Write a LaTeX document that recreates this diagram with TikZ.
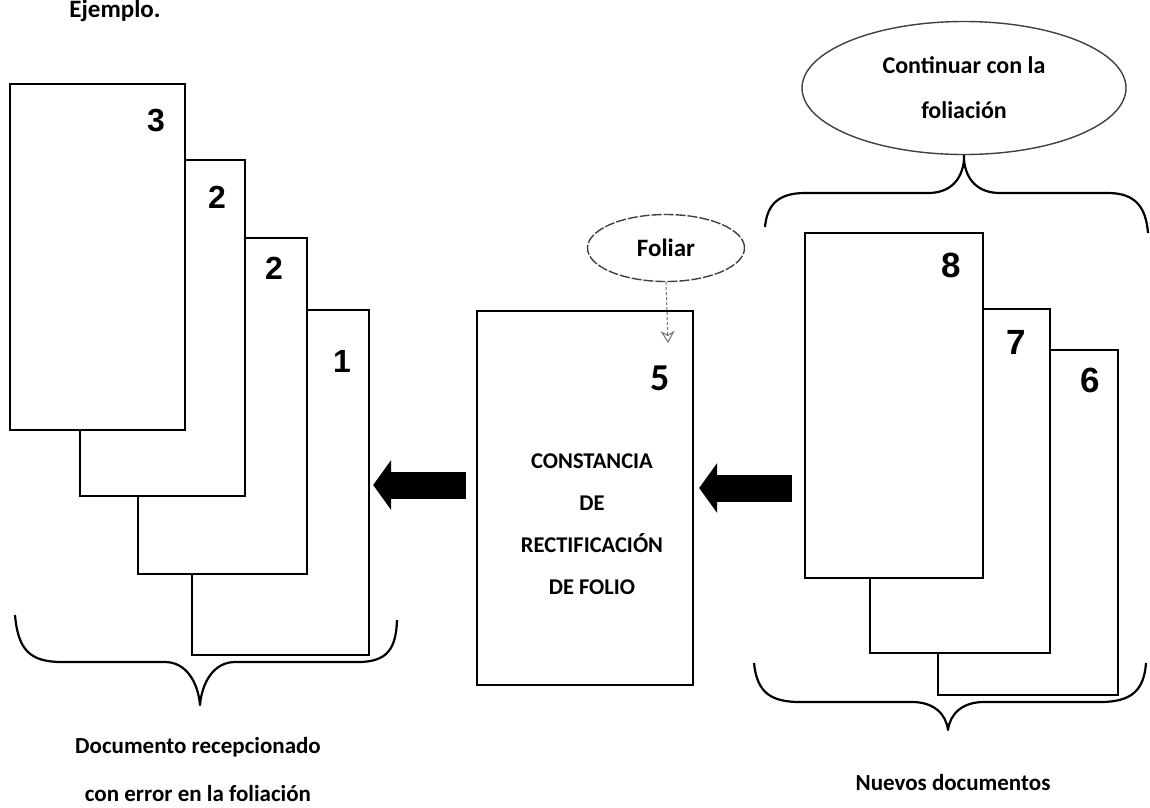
\documentclass[tikz,border=0pt]{standalone}
\usepackage{fontspec}
\setmainfont{Carlito}
\newfontfamily\digitfont{Liberation Sans}
\usetikzlibrary{arrows.meta,shapes.geometric,calc}

\begin{document}
\begin{tikzpicture}[x=1pt,y=-1pt,
  page/.style={draw=black, line width=2.3pt, fill=white, rectangle, inner sep=0pt},
  folioL/.style={font=\digitfont\bfseries\fontsize{32}{32}\selectfont, anchor=base, inner sep=0pt},
  folioR/.style={font=\digitfont\bfseries\fontsize{35}{35}\selectfont, anchor=base, inner sep=0pt},
  bubble/.style={ellipse, draw=black!75, line width=1.4pt, inner sep=0pt, align=center},
  brace/.style={draw=black, line width=2.2pt, line join=round},
  blockarrow/.style={draw=black, line width=27pt, -{Triangle[length=18pt,width=49pt]}},
  label/.style={align=center, inner sep=0pt, font=\bfseries\fontsize{23}{48}\selectfont}
]
\useasboundingbox (0,0) rectangle (1150,807);

% heading
\node[anchor=base, inner sep=0pt, font=\bfseries\fontsize{25}{25}\selectfont] (head) at (115,17) {Ejemplo.};

% received document, pages drawn back to front
\node[page, minimum width=177, minimum height=345] (p1)  at (280.5,482.5) {};
\node[page, minimum width=169, minimum height=336] (p2b) at (222.5,406) {};
\node[page, minimum width=165, minimum height=336] (p2a) at (162.5,328) {};
\node[page, minimum width=175, minimum height=346] (p3)  at (97.5,257) {};
\node[folioL] (n1)  at (342,372) {1};
\node[folioL] (n2b) at (274,279) {2};
\node[folioL] (n2a) at (217,208) {2};
\node[folioL] (n3)  at (156,131) {3};

% certificate sheet
\node[page, minimum width=216, minimum height=374] (mid) at (585,498) {};
\node[anchor=base, inner sep=0pt, font=\bfseries\fontsize{38}{38}\selectfont] (n5) at (660,390) {5};
\node[align=center, inner sep=0pt, font=\bfseries\fontsize{22.5}{42}\selectfont] (midtext) at (592,524)
  {CONSTANCIA\\DE\\RECTIFICACIÓN\\DE FOLIO};

% new documents, pages drawn back to front
\node[page, minimum width=180, minimum height=345] (p6) at (1028,522.5) {};
\node[page, minimum width=180, minimum height=344] (p7) at (960,481) {};
\node[page, minimum width=178, minimum height=345] (p8) at (894,405.5) {};
\node[folioR] (n6) at (1090,392) {6};
\node[folioR] (n7) at (1016,354) {7};
\node[folioR] (n8) at (951,277) {8};

% block arrows
\coordinate (rowL) at (0,485);
\coordinate (rowR) at (0,488);
\draw[blockarrow] ([xshift=-10pt]mid.west |- rowL) -- ([xshift=3pt]p1.east |- rowL);
\draw[blockarrow] ([xshift=-12pt]p8.west |- rowR) -- ([xshift=5pt]mid.east |- rowR);

% callouts
\node[bubble, dash pattern=on 10pt off 2pt, minimum width=157, minimum height=67,
      font=\bfseries\fontsize{25}{25}\selectfont] (foliar) at (666,248) {Foliar};
\coordinate (foliarTip) at (668,343);
\draw[black!55, line width=1pt, densely dashed, -{Stealth[open,length=12pt,width=14pt]}] (foliar.south) -- (foliarTip);

\node[bubble, minimum width=324, minimum height=133,
      font=\bfseries\fontsize{24}{45}\selectfont] (cont) at (964,88) {Continuar con la\\foliación};

% braces
\draw[brace] (15,615) .. controls (18,650) and (30,662) .. (62,662) -- (165,662)
  .. controls (186,662) and (198,682) .. (200,705)
  .. controls (202,682) and (214,662) .. (235,662) -- (358,662)
  .. controls (388,662) and (396,648) .. (397,620);
\draw[brace] (754,663) .. controls (757,692) and (770,702) .. (800,702) -- (912,702)
  .. controls (934,702) and (946,714) .. (948,730)
  .. controls (950,714) and (962,702) .. (984,702) -- (1100,702)
  .. controls (1132,702) and (1144,690) .. (1146,663);
\draw[brace] (cont.south) -- (964,160)
  .. controls (962,180) and (950,193) .. (928,193) -- (805,193)
  .. controls (778,193) and (767,205) .. (765,227);
\draw[brace] (964,160)
  .. controls (966,180) and (978,193) .. (1000,193) -- (1108,193)
  .. controls (1136,193) and (1146,208) .. (1148,233);

% captions
\node[label] (capL) at (198,769) {Documento recepcionado\\con error en la foliación};
\node[label] (capR) at (953,782) {Nuevos documentos};
\end{tikzpicture}
\end{document}
